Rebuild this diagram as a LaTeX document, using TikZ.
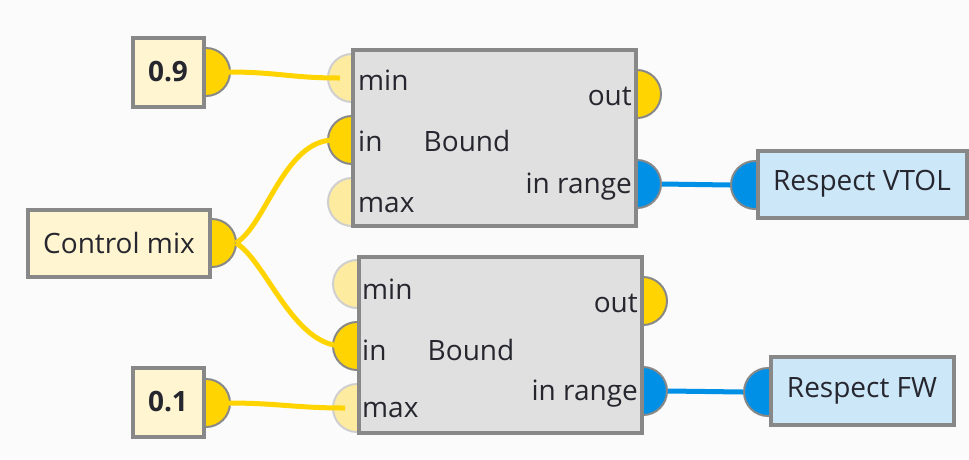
\documentclass[tikz,border=0pt]{standalone}
\usepackage{fontspec}
\setmainfont{Open Sans}
\usetikzlibrary{positioning}
\definecolor{canvas}{HTML}{FBFBFB}
\definecolor{frame}{HTML}{888888}
\definecolor{block}{HTML}{E0E0E0}
\definecolor{cream}{HTML}{FFF5D0}
\definecolor{sky}{HTML}{CCE7F8}
\definecolor{signal}{HTML}{FFD400}
\definecolor{palesignal}{HTML}{FDEBA0}
\definecolor{flag}{HTML}{0090E6}
\definecolor{rim}{HTML}{CFCFCF}
\definecolor{ink}{HTML}{26262F}
\tikzset{
  every node/.style={font=\fontsize{28}{32}\selectfont,text=ink},
  blockbox/.style={draw=frame,line width=4pt,fill=block,inner sep=0pt,minimum width=283pt,minimum height=176pt},
  valuebox/.style={draw=frame,line width=4pt,fill=cream,inner sep=0pt},
  flagbox/.style={draw=frame,line width=4pt,fill=sky,inner sep=0pt},
  livepin/.style={circle,draw=frame,line width=2pt,fill=signal,minimum size=48pt,inner sep=0pt},
  idlepin/.style={circle,draw=rim,line width=2pt,fill=palesignal,minimum size=48pt,inner sep=0pt},
  flagpin/.style={circle,draw=frame,line width=2pt,fill=flag,minimum size=48pt,inner sep=0pt},
  wire/.style={draw=signal,line width=5pt},
  flagwire/.style={draw=flag,line width=5pt},
}
\begin{document}
\begin{tikzpicture}[x=1pt,y=-1pt]
  \fill[canvas] (0,0) rectangle (969,459);
  \useasboundingbox (0,0) rectangle (969,459);
  % pins
  \node[livepin] (pinHi) at (206,72) {};
  \node[livepin] (pinLo) at (206,403) {};
  \node[livepin] (pinMix) at (212,243) {};
  \node[flagpin] (pinVtol) at (755,185) {};
  \node[flagpin] (pinFw) at (768,392) {};
  \node[idlepin] (aMin) at (352,78) {};
  \node[livepin] (aIn) at (352,140) {};
  \node[idlepin] (aMax) at (352,202) {};
  \node[livepin] (aOut) at (637,94) {};
  \node[flagpin] (aRange) at (637,184) {};
  \node[idlepin] (bMin) at (357,284) {};
  \node[livepin] (bIn) at (357,346) {};
  \node[idlepin] (bMax) at (357,408) {};
  \node[livepin] (bOut) at (643,301) {};
  \node[flagpin] (bRange) at (643,391) {};
  % blocks
  \node[valuebox,minimum width=71pt,minimum height=69pt] (hi) at (168,72) {\bfseries 0.9};
  \node[valuebox,minimum width=71pt,minimum height=69pt] (lo) at (168,402) {\bfseries 0.1};
  \node[valuebox,minimum width=182pt,minimum height=67pt] (mix) at (119,243) {Control mix};
  \node[flagbox,minimum width=209pt,minimum height=67pt] (vtol) at (862,184) {Respect VTOL};
  \node[flagbox,minimum width=183pt,minimum height=68pt] (fw) at (862,391) {Respect FW};
  \node[blockbox] (boundA) at (494,138) {};
  \node[blockbox] (boundB) at (500,345) {};
  \node at (467,141) {Bound};
  \node at (471,350) {Bound};
  \node[anchor=west,inner sep=0pt] at (358,80) {min};
  \node[anchor=west,inner sep=0pt] at (358,141) {in};
  \node[anchor=west,inner sep=0pt] at (358,205) {max};
  \node[anchor=east,inner sep=0pt] at (632,96) {out};
  \node[anchor=east,inner sep=0pt] at (632,187) {in range};
  \node[anchor=west,inner sep=0pt] at (362,289) {min};
  \node[anchor=west,inner sep=0pt] at (362,350) {in};
  \node[anchor=west,inner sep=0pt] at (362,410) {max};
  \node[anchor=east,inner sep=0pt] at (638,303) {out};
  \node[anchor=east,inner sep=0pt] at (638,394) {in range};
  % wires
  \draw[wire] ([xshift=-3pt]pinHi.east) .. controls +(50,0) and +(-50,0) .. ([xshift=-12pt]aMin.center);
  \draw[wire] ([xshift=-3pt]pinLo.east) .. controls +(50,0) and +(-50,0) .. ([xshift=-12pt]bMax.center);
  \draw[wire] ([xshift=-1pt]pinMix.east) .. controls +(30,-18) and +(-50,0) .. ([xshift=-18pt]aIn.center);
  \draw[wire] ([xshift=-1pt]pinMix.east) .. controls +(30,18) and +(-50,0) .. ([xshift=-14pt]bIn.center);
  \draw[flagwire] (aRange.east) -- (pinVtol.west);
  \draw[flagwire] (bRange.east) -- (pinFw.west);
\end{tikzpicture}
\end{document}
